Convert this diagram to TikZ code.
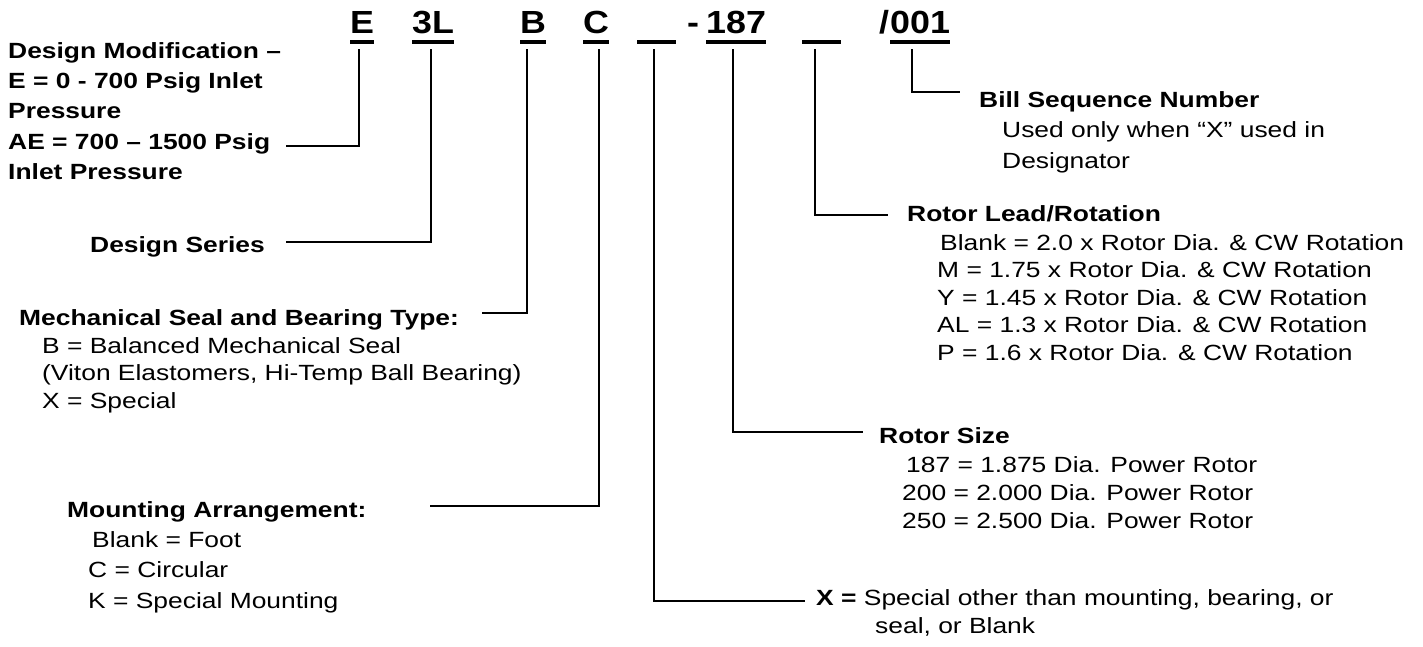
\documentclass[tikz,border=0pt]{standalone}
\usepackage{fontspec}
\setmainfont{Liberation Sans}[FakeStretch=1.2]
\newfontfamily\codefont{Liberation Sans}[FakeStretch=1.12]
\begin{document}
\begin{tikzpicture}[x=1pt,y=-1pt,
  code/.style={anchor=base west,inner sep=0pt,font=\codefont\bfseries\fontsize{32}{36}\selectfont},
  ttl/.style={anchor=base west,inner sep=0pt,align=left,font=\bfseries\fontsize{22}{30}\selectfont},
  body/.style={anchor=base west,inner sep=0pt,align=left,font=\fontsize{22}{28}\selectfont},
  conn/.style={line width=1.5pt,line cap=rect},
  uline/.style={line width=3.6pt}]
\useasboundingbox[fill=white] (0,0) rectangle (1423,647);

% ---- code line ----
\node[code] (cE)   at (350,34) {E};
\node[code] (c3L)  at (412,34) {3L};
\node[code] (cB)   at (520,34) {B};
\node[code] (cC)   at (583,34) {C};
\node[code,minimum width=39pt] (cBa) at (637,34) {};
\node[code] (cDash) at (687,34) {-};
\node[code] (c187) at (706,34) {187};
\node[code,minimum width=39pt] (cBb) at (802,34) {};
\node[code] (cSl)  at (879,34) {/};
\node[code] (c001) at (890,34) {001};
\foreach \n in {cE,c3L,cB,cC,cBa,c187,cBb,c001}
  \draw[uline] ([yshift=-8pt]\n.base west) -- ([yshift=-8pt]\n.base east);

% ---- labels (base anchor = baseline of the last line) ----
\node[ttl] (desmod) at (8,179) {Design Modification --\\E = 0 - 700 Psig Inlet\\Pressure\\AE = 700 -- 1500 Psig\\Inlet Pressure};
\node[ttl] (desser) at (90,252) {Design Series};
\node[ttl] (mechT) at (19,325) {Mechanical Seal and Bearing Type:};
\node[body,font=\fontsize{22}{27.5}\selectfont] (mechB) at (42,408) {B = Balanced Mechanical Seal\\(Viton Elastomers, Hi-Temp Ball Bearing)\\X = Special};
\node[ttl] (mountT) at (67,517) {Mounting Arrangement:};
\node[body,font=\fontsize{22}{30.5}\selectfont] (mountB) at (88,608) {\hspace*{4pt}Blank = Foot\\C = Circular\\K = Special Mounting};
\node[ttl] (billT) at (979,108) {Bill Sequence Number};
\node[body,font=\fontsize{22}{30}\selectfont] (billB) at (1002,168) {Used only when “X” used in\\Designator};
\node[ttl] (leadT) at (907,222) {Rotor Lead/Rotation};
\node[body,font=\fontsize{22}{27.5}\selectfont] (leadB) at (937,360) {\hspace*{3pt}Blank = 2.0 x Rotor Dia. \& CW Rotation\\M = 1.75 x Rotor Dia. \& CW Rotation\\Y = 1.45 x Rotor Dia. \& CW Rotation\\AL = 1.3 x Rotor Dia. \& CW Rotation\\P = 1.6 x Rotor Dia. \& CW Rotation};
\node[ttl] (sizeT) at (879,443) {Rotor Size};
\node[body,font=\fontsize{22}{28.3}\selectfont] (sizeB) at (902,528.6) {\hspace*{4pt}187 = 1.875 Dia. Power Rotor\\200 = 2.000 Dia. Power Rotor\\250 = 2.500 Dia. Power Rotor};
\node[body] (xlab) at (816,633) {\textbf{X =} Special other than mounting, bearing, or\\\hspace*{59pt}seal, or Blank};

% ---- connector ends ----
\coordinate (tE)   at (359,50);  \coordinate (eE)   at (287,146);
\coordinate (t3L)  at (431,50);  \coordinate (e3L)  at (287,242);
\coordinate (tB)   at (527,50);  \coordinate (eB)   at (483,313);
\coordinate (tC)   at (599,50);  \coordinate (eC)   at (431,506);
\coordinate (tBa)  at (654,50);  \coordinate (eBa)  at (804,601);
\coordinate (t187) at (733,50);  \coordinate (e187) at (862,432);
\coordinate (tBb)  at (815,50);  \coordinate (eBb)  at (887,215);
\coordinate (t001) at (912,50);  \coordinate (e001) at (959,92);

\foreach \a/\b in {tE/eE,t3L/e3L,tB/eB,tC/eC,tBa/eBa,t187/e187,tBb/eBb,t001/e001}
  \draw[conn] (\a) |- (\b);
\end{tikzpicture}
\end{document}
